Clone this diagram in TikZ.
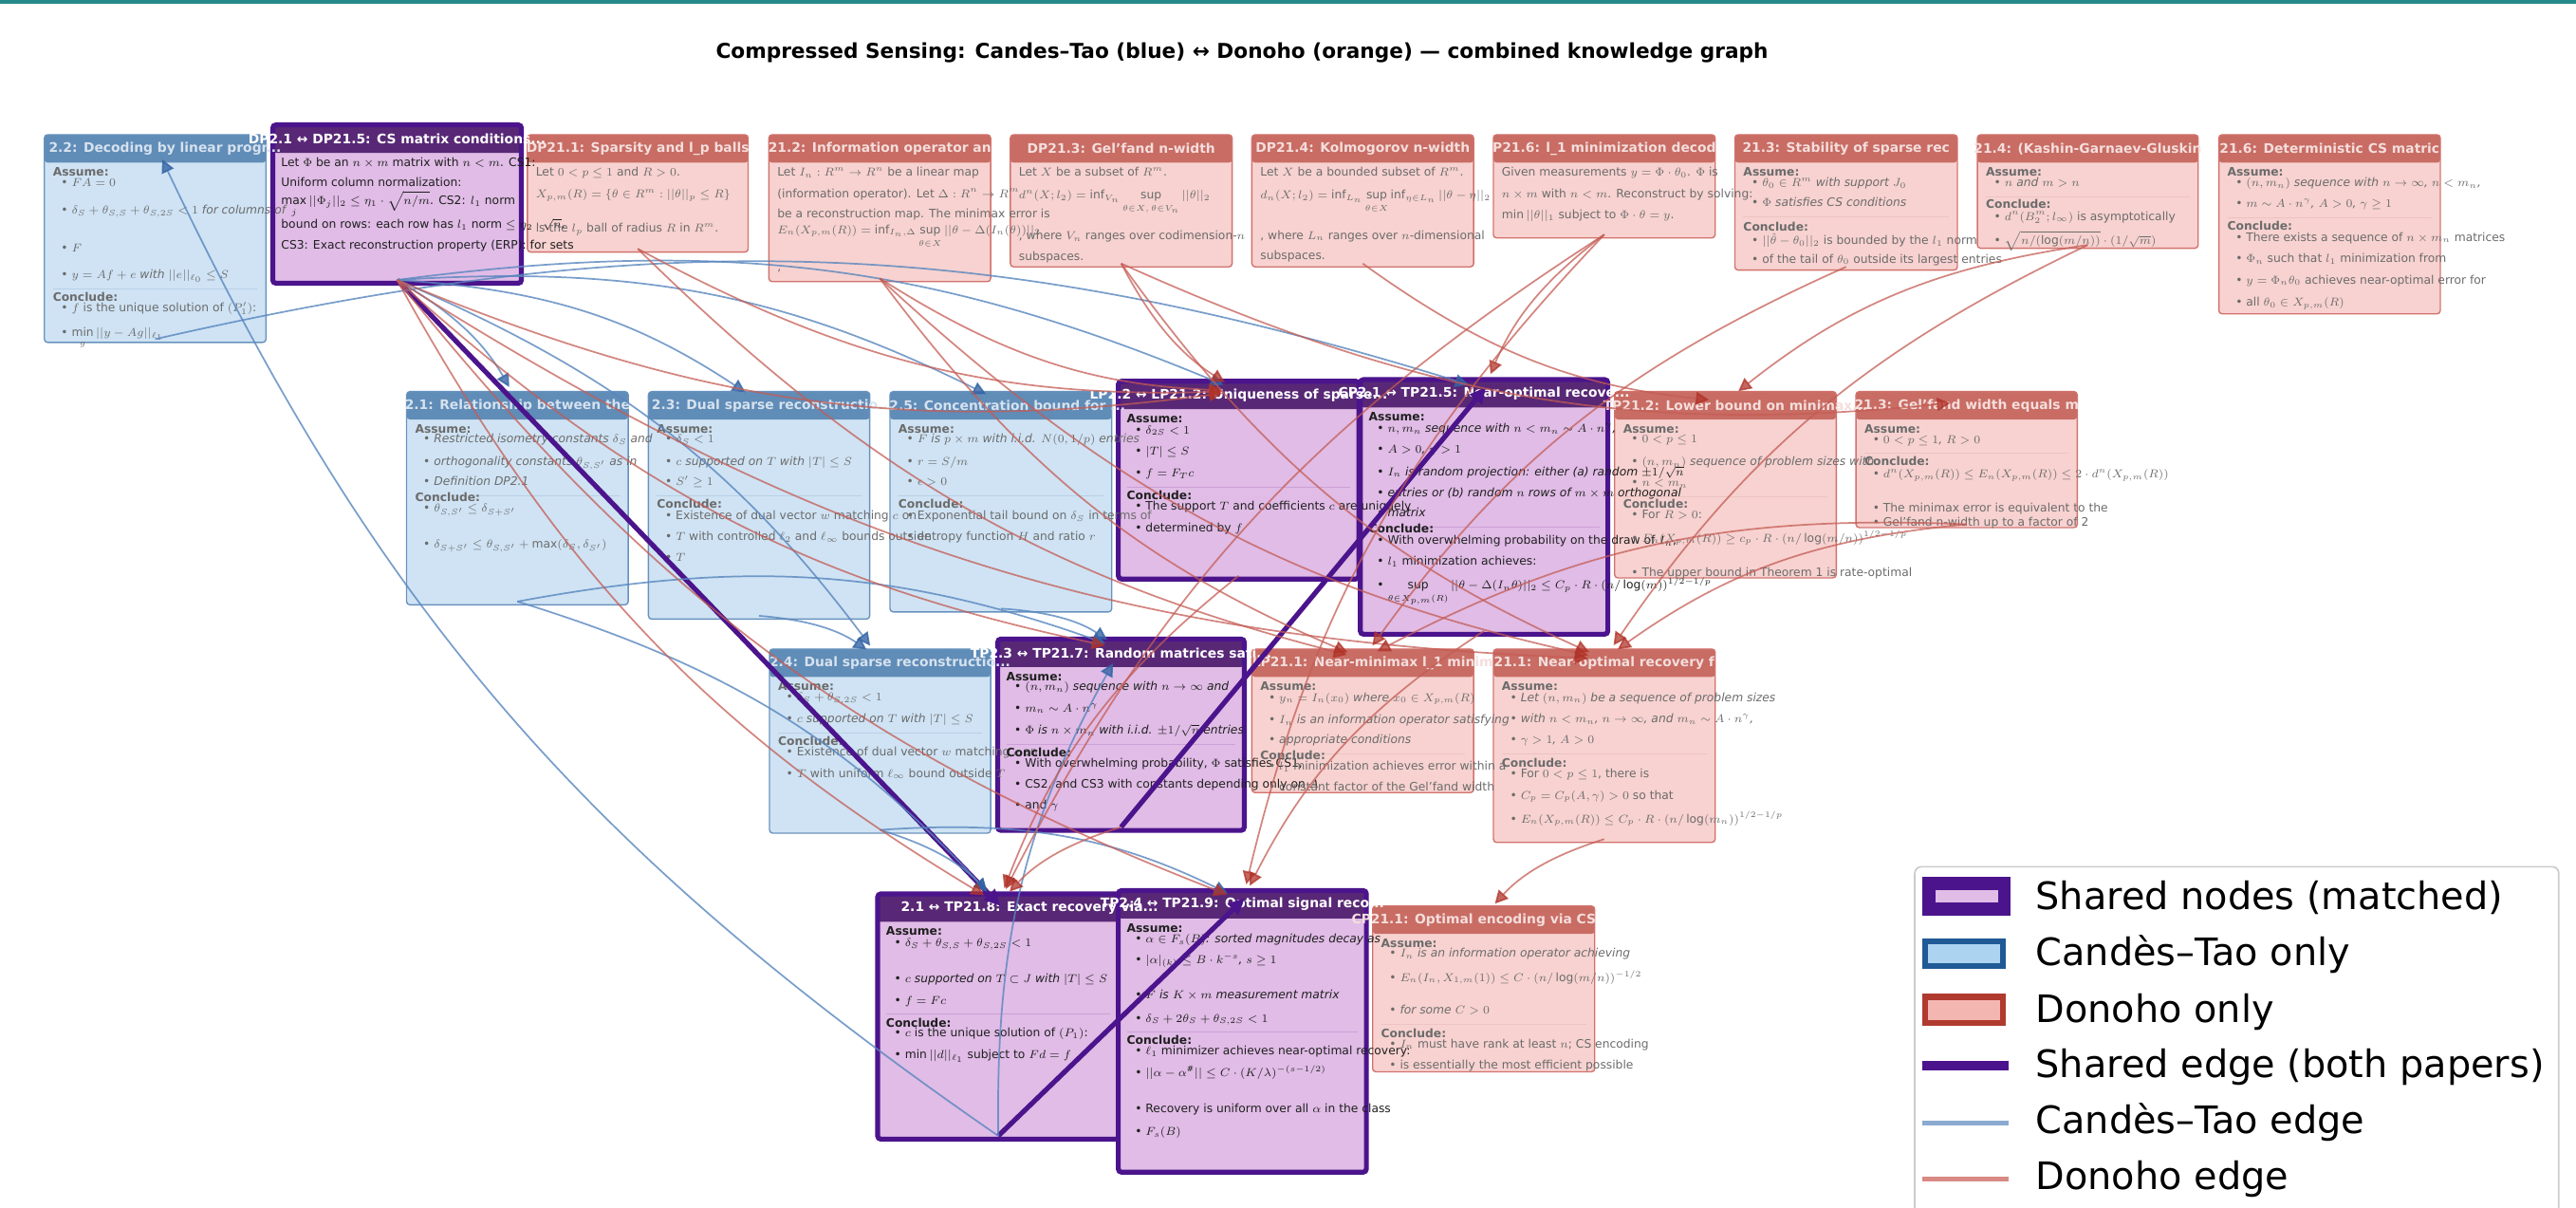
\documentclass[tikz,border=0pt]{standalone}
\usepackage{fontspec}
\setmainfont{DejaVu Sans}
\usetikzlibrary{arrows.meta}

\definecolor{ctFill}{RGB}{207,227,244}
\definecolor{ctHead}{RGB}{96,140,184}
\definecolor{ctRim}{RGB}{104,146,190}
\definecolor{ctTtl}{RGB}{214,226,238}
\definecolor{ctSep}{RGB}{185,208,230}
\definecolor{dnFill}{RGB}{247,210,208}
\definecolor{dnHead}{RGB}{200,108,100}
\definecolor{dnRim}{RGB}{210,114,108}
\definecolor{dnTtl}{RGB}{244,222,220}
\definecolor{dnSep}{RGB}{236,196,194}
\definecolor{shFill}{RGB}{224,188,230}
\definecolor{shHead}{RGB}{88,40,118}
\definecolor{shRim}{RGB}{75,20,140}
\definecolor{shSep}{RGB}{205,160,215}
\definecolor{ctEdge}{RGB}{88,134,190}
\definecolor{ctTip}{RGB}{52,100,165}
\definecolor{dnEdge}{RGB}{196,92,84}
\definecolor{dnTip}{RGB}{176,52,42}
\definecolor{topLine}{RGB}{38,138,138}
\definecolor{lgCtRim}{RGB}{31,90,150}
\definecolor{lgCtFill}{RGB}{172,211,240}
\definecolor{lgDnRim}{RGB}{176,58,46}
\definecolor{lgDnFill}{RGB}{244,182,176}
\definecolor{lgCtEdge}{RGB}{138,170,208}
\definecolor{lgDnEdge}{RGB}{217,138,132}

% bullet items: italic for assumptions, upright for conclusions
\newcommand{\ia}[1]{\hspace*{5pt}\textbullet\ \textit{#1}}
\newcommand{\ic}[1]{\hspace*{5pt}\textbullet\ #1}
\newcommand{\hd}[1]{{\bfseries #1}}
\newcommand{\sepl}[1]{\\[-6pt]\textcolor{sepC}{\rule{\sepw}{0.6pt}}\\[#1pt]}

% box with header band: name, kind, x1, y1, x2, y2
\newcommand{\kgbox}[6]{%
  \node[#2box, minimum width={(#5-#3)*1pt}, minimum height={(#6-#4)*1pt}] (#1) at (#3,#4) {};
  \fill[#2head] (#1.north west) rectangle ([yshift=-17pt]#1.north east);
  \draw[#2rim] (#1.north west) rectangle (#1.south east);
  \coordinate (#1-o) at ([yshift=2pt]#1.south);
  \coordinate (#1-i) at ([yshift=-6pt]#1.north);
  \pgfmathsetlengthmacro{\kgw}{(#5-#3-10)*1pt}%
  \expandafter\xdef\csname kgw#1\endcsname{\kgw}%
}
\newcommand{\kgtitle}[4][0]{\node[#3title] at ([xshift=#1pt,yshift=-8.5pt]#2.north) {#4};}
\newcommand{\kgbody}[3]{%
  \edef\sepw{\csname kgw#1\endcsname}%
  \colorlet{sepC}{#2Sep}%
  \node[#2body] at ([shift={(5pt,-16pt)}]#1.north west) {\rule{0pt}{9pt}#3};
}

\begin{document}
\begin{tikzpicture}[x=1pt, y=-1pt,
  ctbox/.style={anchor=north west, inner sep=0pt, fill=ctFill, rounded corners=2pt},
  dnbox/.style={anchor=north west, inner sep=0pt, fill=dnFill, rounded corners=2pt},
  shbox/.style={anchor=north west, inner sep=0pt, fill=shFill, rounded corners=2pt},
  cthead/.style={fill=ctHead, rounded corners=2pt},
  dnhead/.style={fill=dnHead, rounded corners=2pt},
  shhead/.style={fill=shHead, rounded corners=2pt},
  ctrim/.style={draw=ctRim, line width=0.8pt, rounded corners=2pt},
  dnrim/.style={draw=dnRim, line width=0.8pt, rounded corners=2pt},
  shrim/.style={draw=shRim, line width=3pt, rounded corners=2pt},
  ctbody/.style={anchor=north west, inner sep=0pt, align=left, text=black!58, font=\fontsize{7.1}{12.5}\selectfont},
  dnbody/.style={ctbody},
  shbody/.style={ctbody, text=black!88},
  cttitle/.style={inner sep=0pt, text=ctTtl, font=\bfseries\fontsize{8}{9}\selectfont},
  dntitle/.style={cttitle, text=dnTtl},
  shtitle/.style={cttitle, text=white},
  ctE/.style={draw=ctEdge, opacity=0.8, line width=1pt, -{Triangle[length=8pt,width=8pt,color=ctTip]}, shorten >=10pt},
  dnE/.style={draw=dnEdge, opacity=0.75, line width=1pt, -{Triangle[length=8pt,width=8pt,color=dnTip]}, shorten >=10pt},
  shE/.style={draw=shRim, line width=3pt, -{Triangle[length=10pt,width=9pt]}, shorten >=-2pt}]

\useasboundingbox (0,0) rectangle (1568,735);
\draw[topLine, line width=2.2pt] (0,1.1) -- (1568,1.1);

\node[font=\bfseries\fontsize{12.5}{15}\selectfont, anchor=base] (title) at (756,35.6)
  {Compressed Sensing: Candes–Tao (blue) ↔ Donoho (orange) — combined knowledge graph};

% ---------- boxes ----------
\kgbox{decode}{ct}{27}{82}{161.5}{208}
\kgbox{csmat}{sh}{166}{76}{317}{172}
\kgbox{lpball}{dn}{321}{82}{455}{153}
\kgbox{infop}{dn}{468}{82}{602.6}{171}
\kgbox{gelfand}{dn}{615}{82}{749.6}{162}
\kgbox{kolmo}{dn}{762}{82}{896.6}{162}
\kgbox{lonemin}{dn}{909}{82}{1043.6}{144.4}
\kgbox{stab}{dn}{1056}{82}{1191}{164}
\kgbox{kashin}{dn}{1203.6}{82}{1337.6}{150.7}
\kgbox{detcs}{dn}{1350.6}{82}{1485}{190.6}
\kgbox{relate}{ct}{247.5}{238.3}{382}{367.7}
\kgbox{dualA}{ct}{394.7}{238.3}{529}{376.4}
\kgbox{concen}{ct}{541.7}{238.3}{676.3}{372}
\kgbox{unique}{sh}{680.7}{232}{826.8}{352}
\kgbox{nearopt}{sh}{828}{231}{978.3}{385.6}
\kgbox{lower}{dn}{982.8}{238.3}{1117.3}{351.3}
\kgbox{gelmin}{dn}{1129.7}{238.3}{1264}{320.7}
\kgbox{dualB}{ct}{468.4}{395}{602.6}{506.7}
\kgbox{randmat}{sh}{607.3}{388.9}{757}{505}
\kgbox{nearmm}{dn}{762}{395}{896.6}{482}
\kgbox{nearrec}{dn}{909}{395}{1043.6}{512.3}
\kgbox{exact}{sh}{534.2}{544}{680.7}{692.9}
\kgbox{optsig}{sh}{680.7}{542}{831.3}{713}
\kgbox{encode}{dn}{835.5}{551.4}{970.3}{651.9}

% ---------- header titles ----------
\kgtitle[6]{decode}{ct}{2.2: Decoding by linear progr...}
\kgtitle{csmat}{sh}{DP2.1 ↔ DP21.5: CS matrix conditions...}
\kgtitle{lpball}{dn}{DP21.1: Sparsity and l\_p balls}
\kgtitle{infop}{dn}{21.2: Information operator an}
\kgtitle{gelfand}{dn}{DP21.3: Gel'fand n-width}
\kgtitle{kolmo}{dn}{DP21.4: Kolmogorov n-width}
\kgtitle{lonemin}{dn}{P21.6: l\_1 minimization decod}
\kgtitle{stab}{dn}{21.3: Stability of sparse rec}
\kgtitle{kashin}{dn}{21.4: (Kashin-Garnaev-Gluskin}
\kgtitle{detcs}{dn}{21.6: Deterministic CS matric}
\kgtitle{relate}{ct}{2.1: Relationship between the}
\kgtitle[8]{dualA}{ct}{2.3: Dual sparse reconstructio...}
\kgtitle[4]{concen}{ct}{2.5: Concentration bound for ...}
\kgtitle{unique}{sh}{LP2.2 ↔ LP21.2: Uniqueness of sparse...}
\kgtitle{nearopt}{sh}{CP2.1 ↔ TP21.5: Near-optimal recove...}
\kgtitle[6]{lower}{dn}{TP21.2: Lower bound on minimax...}
\kgtitle{gelmin}{dn}{21.3: Gel'fand width equals m}
\kgtitle[6]{dualB}{ct}{2.4: Dual sparse reconstructio...}
\kgtitle{randmat}{sh}{TP2.3 ↔ TP21.7: Random matrices sati...}
\kgtitle[6]{nearmm}{dn}{LP21.1: Near-minimax l\_1 minim}
\kgtitle{nearrec}{dn}{21.1: Near-optimal recovery f}
\kgtitle[19]{exact}{sh}{2.1 ↔ TP21.8: Exact recovery via...}
\kgtitle{optsig}{sh}{TP2.4 ↔ TP21.9: Optimal signal reco...}
\kgtitle[-6]{encode}{dn}{CP21.1: Optimal encoding via CS}

% ---------- box contents ----------
\kgbody{decode}{ct}{\hd{Assume:}\\[-6.3pt]
\ia{$FA=0$}\\[4.5pt]
\ia{$\delta_S+\theta_{S,S}+\theta_{S,2S}<1$ for columns of}\\[10.5pt]
\ia{$F$}\\[3.5pt]
\ia{$y=Af+e$ with $||e||_{\ell_0}\le S$}\sepl{-5}
\hd{Conclude:}\\[-6.3pt]
\ic{$f$ is the unique solution of $(P'_1)$:}\\[2.5pt]
\ic{$\min\limits_g||y-Ag||_{\ell_1}$}}

\kgbody{csmat}{sh}{Let $\Phi$ be an $n\times m$ matrix with $n<m$. CS1:\\
Uniform column normalization:\\[-1.5pt]
$\max\limits_j||\Phi_j||_2\le\eta_1\cdot\sqrt{n/m}$. CS2: $l_1$ norm\\[-0.5pt]
bound on rows: each row has $l_1$ norm $\le\eta_2\cdot\sqrt{n}$.\\
CS3: Exact reconstruction property (ERP): for sets}

\kgbody{lpball}{dn}{Let $0<p\le1$ and $R>0$.\\[1pt]
$X_{p,m}(R)=\{\theta\in R^m:||\theta||_p\le R\}$\\[8pt]
is the $l_p$ ball of radius $R$ in $R^m$.}

\kgbody{infop}{dn}{Let $I_n:R^m\to R^n$ be a linear map\\[0.5pt]
(information operator). Let $\Delta:R^n\to R^m$\\
be a reconstruction map. The minimax error is\\[-3pt]
$E_n(X_{p,m}(R))=\inf_{I_n,\Delta}\sup\limits_{\theta\in X}||\theta-\Delta(I_n(\theta))||_2$\\[10pt]
,}

\kgbody{gelfand}{dn}{Let $X$ be a subset of $R^m$.\\[1.5pt]
$d^n(X;l_2)=\inf_{V_n}\sup\limits_{\theta\in X,\,\theta\in V_n}||\theta||_2$\\[9pt]
, where $V_n$ ranges over codimension-$n$\\
subspaces.}

\kgbody{kolmo}{dn}{Let $X$ be a bounded subset of $R^m$.\\[1.5pt]
$d_n(X;l_2)=\inf_{L_n}\sup\limits_{\theta\in X}\inf_{\eta\in L_n}||\theta-\eta||_2$\\[9pt]
, where $L_n$ ranges over $n$-dimensional\\
subspaces.}

\kgbody{lonemin}{dn}{Given measurements $y=\Phi\cdot\theta_0$. $\Phi$ is\\[0.5pt]
$n\times m$ with $n<m$. Reconstruct by solving:\\[0.5pt]
$\min||\theta||_1$ subject to $\Phi\cdot\theta=y$.}

\kgbody{stab}{dn}{\hd{Assume:}\\[-6.3pt]
\ia{$\theta_0\in R^m$ with support $J_0$}\\
\ia{$\Phi$ satisfies CS conditions}\sepl{-4.2}
\hd{Conclude:}\\[-4.4pt]
\ic{$||\hat\theta-\theta_0||_2$ is bounded by the $l_1$ norm}\\[-1.3pt]
\ic{of the tail of $\theta_0$ outside its largest entries}}

\kgbody{kashin}{dn}{\hd{Assume:}\\[-6.3pt]
\ia{$n$ and $m>n$}\sepl{-5.5}
\hd{Conclude:}\\[-5.4pt]
\ic{$d^n(B_2^m;l_\infty)$ is asymptotically}\\[2.5pt]
\ic{$\sqrt{n/(\log(m/n))}\cdot(1/\sqrt{m})$}}

\kgbody{detcs}{dn}{\hd{Assume:}\\[-6pt]
\ia{$(n,m_n)$ sequence with $n\to\infty$, $n<m_n$,}\\
\ia{$m\sim A\cdot n^\gamma$, $A>0$, $\gamma\ge1$}\sepl{-5.2}
\hd{Conclude:}\\[-5.7pt]
\ic{There exists a sequence of $n\times m_n$ matrices}\\[0.6pt]
\ic{$\Phi_n$ such that $l_1$ minimization from}\\[0.4pt]
\ic{$y=\Phi_n\theta_0$ achieves near-optimal error for}\\[1pt]
\ic{all $\theta_0\in X_{p,m}(R)$}}

\kgbody{relate}{ct}{\hd{Assume:}\\[-6.4pt]
\ia{Restricted isometry constants $\delta_S$ and}\\[1pt]
\ia{orthogonality constants $\theta_{S,S'}$ as in}\\
\ia{Definition DP2.1}\sepl{-9.2}
\hd{Conclude:}\\[-6.3pt]
\ic{$\theta_{S,S'}\le\delta_{S+S'}$}\\[9.5pt]
\ic{$\delta_{S+S'}\le\theta_{S,S'}+\max(\delta_S,\delta_{S'})$}}

\kgbody{dualA}{ct}{\hd{Assume:}\\[-6.4pt]
\ia{$\delta_S<1$}\\[1pt]
\ia{$c$ supported on $T$ with $|T|\le S$}\\
\ia{$S'\ge1$}\sepl{-5.3}
\hd{Conclude:}\\[-5.4pt]
\ic{Existence of dual vector $w$ matching $c$ on}\\
\ic{$T$ with controlled $\ell_2$ and $\ell_\infty$ bounds outside}\\
\ic{$T$}}

\kgbody{concen}{ct}{\hd{Assume:}\\[-6.4pt]
\ia{$F$ is $p\times m$ with i.i.d. $N(0,1/p)$ entries}\\[1pt]
\ia{$r=S/m$}\\
\ia{$\epsilon>0$}\sepl{-5.3}
\hd{Conclude:}\\[-5.4pt]
\ic{Exponential tail bound on $\delta_S$ in terms of}\\
\ic{entropy function $H$ and ratio $r$}}

\kgbody{unique}{sh}{\hd{Assume:}\\[-5.7pt]
\ia{$\delta_{2S}<1$}\\[0.6pt]
\ia{$|T|\le S$}\\[0.8pt]
\ia{$f=F_Tc$}\sepl{-5.3}
\hd{Conclude:}\\[-6pt]
\ic{The support $T$ and coefficients $c$ are uniquely}\\[0.6pt]
\ic{determined by $f$}}

\kgbody{nearopt}{sh}{\hd{Assume:}\\[-5.7pt]
\ia{$n,m_n$ sequence with $n<m_n\sim A\cdot n^\gamma$,}\\[0.4pt]
\ia{$A>0$, $\gamma>1$}\\[1pt]
\ia{$I_n$ is random projection: either (a) random $\pm1/\sqrt{n}$}\\[0.3pt]
\ia{entries or (b) random $n$ rows of $m\times m$ orthogonal}\\[-0.3pt]
\ia{matrix}\sepl{-9}
\hd{Conclude:}\\[-5.8pt]
\ic{With overwhelming probability on the draw of $I_n$,}\\[0.2pt]
\ic{$l_1$ minimization achieves:}\\[2.3pt]
\ic{$\sup\limits_{\theta\in X_{p,m}(R)}||\theta-\Delta(I_n\theta)||_2\le C_p\cdot R\cdot(n/\log(m))^{1/2-1/p}$}}

\kgbody{lower}{dn}{\hd{Assume:}\\[-6.8pt]
\ia{$0<p\le1$}\\[1.8pt]
\ia{$(n,m_n)$ sequence of problem sizes with}\\
\ia{$n<m_n$}\sepl{-5.5}
\hd{Conclude:}\\[-6.2pt]
\ic{For $R>0$:}\\[1.5pt]
\ic{$E_n(X_{p,m}(R))\ge c_p\cdot R\cdot(n/\log(m/n))^{1/2-1/p}$}\\[8.7pt]
\ic{The upper bound in Theorem 1 is rate-optimal}}

\kgbody{gelmin}{dn}{\hd{Assume:}\\[-6.2pt]
\ia{$0<p\le1$, $R>0$}\sepl{-5.3}
\hd{Conclude:}\\[-5.2pt]
\ic{$d^n(X_{p,m}(R))\le E_n(X_{p,m}(R))\le2\cdot d^n(X_{p,m}(R))$}\\[8.3pt]
\ic{The minimax error is equivalent to the}\\[-3.8pt]
\ic{Gel'fand n-width up to a factor of 2}}

\kgbody{dualB}{ct}{\hd{Assume:}\\[-6.3pt]
\ia{$\delta_S+\theta_{S,2S}<1$}\\[1.1pt]
\ia{$c$ supported on $T$ with $|T|\le S$}\sepl{-5.1}
\hd{Conclude:}\\[-6.4pt]
\ic{Existence of dual vector $w$ matching $c$ on}\\[0.6pt]
\ic{$T$ with uniform $\ell_\infty$ bound outside $T$}}

\kgbody{randmat}{sh}{\hd{Assume:}\\[-6.4pt]
\ia{$(n,m_n)$ sequence with $n\to\infty$ and}\\[0.6pt]
\ia{$m_n\sim A\cdot n^\gamma$}\\[1pt]
\ia{$\Phi$ is $n\times m_n$ with i.i.d. $\pm1/\sqrt{n}$ entries}\sepl{-5.5}
\hd{Conclude:}\\[-5.8pt]
\ic{With overwhelming probability, $\Phi$ satisfies CS1,}\\[0.2pt]
\ic{CS2, and CS3 with constants depending only on $A$}\\[0.2pt]
\ic{and $\gamma$}}

\kgbody{nearmm}{dn}{\hd{Assume:}\\[-5.8pt]
\ia{$y_n=I_n(x_0)$ where $x_0\in X_{p,m}(R)$}\\[1pt]
\ia{$I_n$ is an information operator satisfying}\\[-0.5pt]
\ia{appropriate conditions}\sepl{-8.9}
\hd{Conclude:}\\[-6.3pt]
\ic{$l_1$ minimization achieves error within a}\\[0.2pt]
\ic{constant factor of the Gel'fand width}}

\kgbody{nearrec}{dn}{\hd{Assume:}\\[-5.8pt]
\ia{Let $(n,m_n)$ be a sequence of problem sizes}\\[0.6pt]
\ia{with $n<m_n$, $n\to\infty$, and $m_n\sim A\cdot n^\gamma$,}\\[0.1pt]
\ia{$\gamma>1$, $A>0$}\sepl{-4.5}
\hd{Conclude:}\\[-6.5pt]
\ic{For $0<p\le1$, there is}\\[0.7pt]
\ic{$C_p=C_p(A,\gamma)>0$ so that}\\[2pt]
\ic{$E_n(X_{p,m}(R))\le C_p\cdot R\cdot(n/\log(m_n))^{1/2-1/p}$}}

\kgbody{exact}{sh}{\hd{Assume:}\\[-5.4pt]
\ia{$\delta_S+\theta_{S,S}+\theta_{S,2S}<1$}\\[9.2pt]
\ia{$c$ supported on $T\subset J$ with $|T|\le S$}\\[0.6pt]
\ia{$f=Fc$}\sepl{-5.1}
\hd{Conclude:}\\[-6.3pt]
\ic{$c$ is the unique solution of $(P_1)$:}\\[0.5pt]
\ic{$\min||d||_{\ell_1}$ subject to $Fd=f$}}

\kgbody{optsig}{sh}{\hd{Assume:}\\[-5.8pt]
\ia{$\alpha\in F_s(B)$: sorted magnitudes decay as}\\
\ia{$|\alpha|_{(k)}\le B\cdot k^{-s}$, $s\ge1$}\\[8.9pt]
\ia{$F$ is $K\times m$ measurement matrix}\\[1.7pt]
\ia{$\delta_S+2\theta_S+\theta_{S,2S}<1$}\sepl{-5.5}
\hd{Conclude:}\\[-6.1pt]
\ic{$\ell_1$ minimizer achieves near-optimal recovery:}\\[0.9pt]
\ic{$||\alpha-\alpha^{\#}||\le C\cdot(K/\lambda)^{-(s-1/2)}$}\\[9.3pt]
\ic{Recovery is uniform over all $\alpha$ in the class}\\[1.4pt]
\ic{$F_s(B)$}}

\kgbody{encode}{dn}{\hd{Assume:}\\[-6.5pt]
\ia{$I_n$ is an information operator achieving}\\[2.2pt]
\ia{$E_n(I_n,X_{1,m}(1))\le C\cdot(n/\log(m/n))^{-1/2}$}\\[7.3pt]
\ia{for some $C>0$}\sepl{-4.7}
\hd{Conclude:}\\[-6.3pt]
\ic{$I_n$ must have rank at least $n$; CS encoding}\\[0.5pt]
\ic{is essentially the most efficient possible}}

% ---------- shared edges ----------
\draw[shE] (csmat-o) -- (exact-i);
\draw[shE] (exact-o) -- (optsig-i);
\draw[shE] (randmat-o) -- (nearopt-i);

% ---------- Candes-Tao edges ----------
\draw[ctE] (exact-o) to[bend left=15] (decode-i);
\draw[ctE] (csmat-o) to[bend left=15] (relate-i);
\draw[ctE] (csmat-o) to[bend left=15] (dualA-i);
\draw[ctE] (csmat-o) to[bend left=15] (concen-i);
\draw[ctE] (csmat-o) to[bend left=15] (unique-i);
\draw[ctE] (csmat-o) to[bend left=15] (dualB-i);
\draw[ctE] (decode-o) to[bend left=15] (nearopt-i);
\draw[ctE] (relate-o) to[bend left=15] (randmat-i);
\draw[ctE] (relate-o) to[bend left=15] (exact-i);
\draw[ctE] (dualA-o) to[bend left=15] (dualB-i);
\draw[ctE] (concen-o) to[bend left=15] (randmat-i);
\draw[ctE] (dualB-o) to[bend left=15] (exact-i);
\draw[ctE] (dualB-o) to[bend left=15] (optsig-i);
\draw[ctE] (exact-o) to[bend left=15] (randmat-i);

% ---------- Donoho edges ----------
\draw[dnE] (csmat-o) to[bend right=15] (unique-i);
\draw[dnE] (csmat-o) to[bend right=15] (randmat-i);
\draw[dnE] (csmat-o) to[bend right=15] (exact-i);
\draw[dnE] (csmat-o) to[bend right=15] (optsig-i);
\draw[dnE] (csmat-o) to[bend right=15] (nearrec-i);
\draw[dnE] (lpball-o) to[bend right=15] (unique-i);
\draw[dnE] (lpball-o) to[bend right=15] (nearmm-i);
\draw[dnE] (infop-o) to[bend right=15] (unique-i);
\draw[dnE] (infop-o) to[bend right=15] (nearmm-i);
\draw[dnE] (infop-o) to[bend right=15] (nearrec-i);
\draw[dnE] (gelfand-o) to[bend right=15] (unique-i);
\draw[dnE] (gelfand-o) to[bend right=15] (gelmin-i);
\draw[dnE] (gelfand-o) to[bend right=15] (nearrec-i);
\draw[dnE] (kolmo-o) to[bend right=15] (lower-i);
\draw[dnE] (lonemin-o) to[bend right=15] (nearopt-i);
\draw[dnE] (lonemin-o) to[bend right=15] (exact-i);
\draw[dnE] (lonemin-o) to[bend right=15] (optsig-i);
\draw[dnE] (stab-o) to[bend right=15] (nearmm-i);
\draw[dnE] (kashin-o) to[bend right=15] (lower-i);
\draw[dnE] (kashin-o) to[bend right=15] (nearrec-i);
\draw[dnE] (unique-o) to[bend right=15] (exact-i);
\draw[dnE] (nearopt-o) to[bend right=15] (optsig-i);
\draw[dnE] (randmat-o) to[bend right=15] (exact-i);
\draw[dnE] (gelmin-o) to[bend right=15] (nearmm-i);
\draw[dnE] (gelmin-o) to[bend right=15] (nearrec-i);
\draw[dnE] (nearrec-o) to[bend right=15] (encode-i);

% ---------- legend ----------
\node[draw=black!20, line width=1pt, rounded corners=4pt, fill=white, anchor=north west,
      minimum width=392pt, minimum height=230pt] (legend) at (1165,527) {};
\node[draw=shRim, line width=8pt, fill=shFill, minimum width=46pt, minimum height=15.7pt, inner sep=0pt] (lgsh) at (1197,545.4) {};
\node[draw=lgCtRim, line width=3.5pt, fill=lgCtFill, minimum width=47pt, minimum height=15.2pt, inner sep=0pt] (lgct) at (1195.5,580.4) {};
\node[draw=lgDnRim, line width=3.5pt, fill=lgDnFill, minimum width=47pt, minimum height=16pt, inner sep=0pt] (lgdn) at (1195.5,614.7) {};
\draw[draw=shRim, line width=6pt] (1170,648.4) -- (1222.6,648.4);
\draw[draw=lgCtEdge, line width=3pt] (1170,683.7) -- (1222.6,683.7);
\draw[draw=lgDnEdge, line width=3pt] (1170,717.4) -- (1222.6,717.4);
\begin{scope}[every node/.style={anchor=base west, inner sep=0pt, font=\fontsize{23}{27}\selectfont}]
\node (lg1) at (1239,553.3) {Shared nodes (matched)};
\node (lg2) at (1239,587.9) {Candès–Tao only};
\node (lg3) at (1239,622.2) {Donoho only};
\node (lg4) at (1239,655.6) {Shared edge (both papers)};
\node (lg5) at (1239,690) {Candès–Tao edge};
\node (lg6) at (1239,723.7) {Donoho edge};
\end{scope}

\end{tikzpicture}
\end{document}
